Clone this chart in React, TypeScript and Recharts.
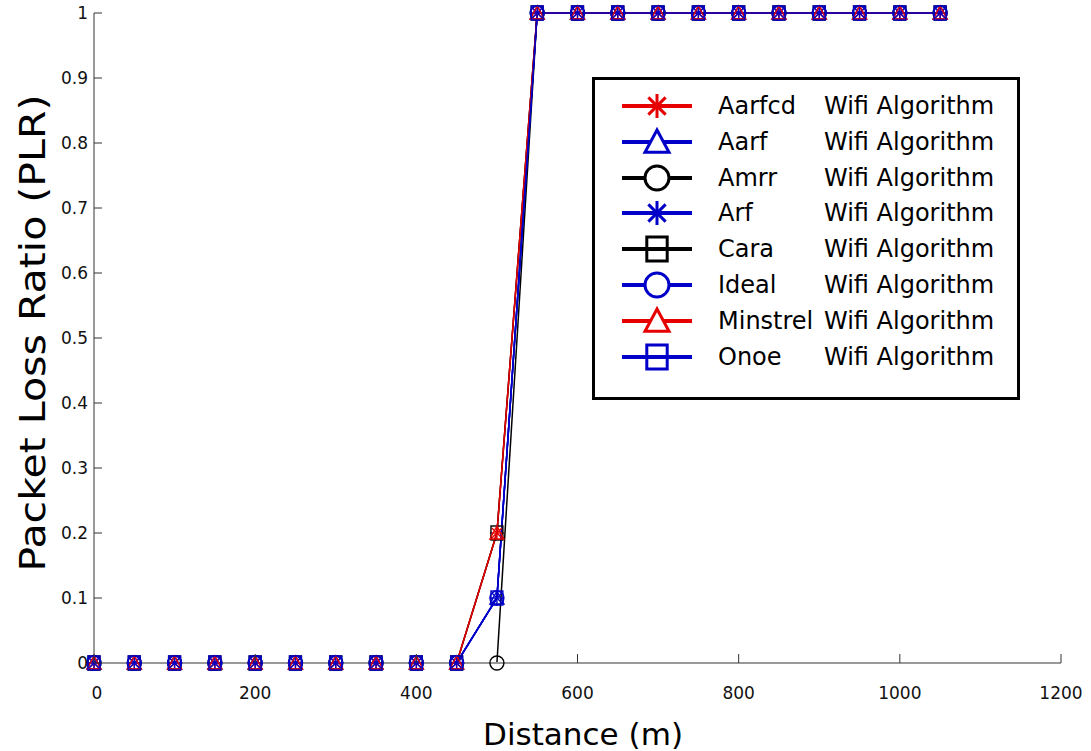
import { LineChart, Line, XAxis, YAxis, Legend } from "recharts";

// distance along the x axis (m)
const distances = [0, 50, 100, 150, 200, 250, 300, 350, 400, 450, 500, 550, 600, 650, 700, 750, 800, 850, 900, 950, 1000, 1050];

// packet loss ratio per algorithm
const aarfcd = [0, 0, 0, 0, 0, 0, 0, 0, 0, 0, 0.2, 1, 1, 1, 1, 1, 1, 1, 1, 1, 1, 1];
const aarf = [0, 0, 0, 0, 0, 0, 0, 0, 0, 0, 0.1, 1, 1, 1, 1, 1, 1, 1, 1, 1, 1, 1];
const amrr = [0, 0, 0, 0, 0, 0, 0, 0, 0, 0, 0, 1, 1, 1, 1, 1, 1, 1, 1, 1, 1, 1];
const arf = [0, 0, 0, 0, 0, 0, 0, 0, 0, 0, 0.1, 1, 1, 1, 1, 1, 1, 1, 1, 1, 1, 1];
const cara = [0, 0, 0, 0, 0, 0, 0, 0, 0, 0, 0.2, 1, 1, 1, 1, 1, 1, 1, 1, 1, 1, 1];
const ideal = [0, 0, 0, 0, 0, 0, 0, 0, 0, 0, 0.1, 1, 1, 1, 1, 1, 1, 1, 1, 1, 1, 1];
const minstrel = [0, 0, 0, 0, 0, 0, 0, 0, 0, 0, 0.2, 1, 1, 1, 1, 1, 1, 1, 1, 1, 1, 1];
const onoe = [0, 0, 0, 0, 0, 0, 0, 0, 0, 0, 0.1, 1, 1, 1, 1, 1, 1, 1, 1, 1, 1, 1];

const xTicks = [0, 200, 400, 600, 800, 1000, 1200];
const yTicks = [0, 0.1, 0.2, 0.3, 0.4, 0.5, 0.6, 0.7, 0.8, 0.9, 1];

const RED = "#e60000";
const BLUE = "#0000c8";
const BLACK = "#000000";

type Shape = "star" | "triangle" | "circle" | "square";

const series: { key: string; name: string; color: string; shape: Shape; values: number[] }[] = [
  { key: "aarfcd", name: "Aarfcd", color: RED, shape: "star", values: aarfcd },
  { key: "aarf", name: "Aarf", color: BLUE, shape: "triangle", values: aarf },
  { key: "amrr", name: "Amrr", color: BLACK, shape: "circle", values: amrr },
  { key: "arf", name: "Arf", color: BLUE, shape: "star", values: arf },
  { key: "cara", name: "Cara", color: BLACK, shape: "square", values: cara },
  { key: "ideal", name: "Ideal", color: BLUE, shape: "circle", values: ideal },
  { key: "minstrel", name: "Minstrel", color: RED, shape: "triangle", values: minstrel },
  { key: "onoe", name: "Onoe", color: BLUE, shape: "square", values: onoe },
];

const data = distances.map((d, i) => {
  const row: Record<string, number> = { d };
  series.forEach((s) => (row[s.key] = s.values[i]));
  return row;
});

const FONT = "'DejaVu Sans', Verdana, sans-serif";

const Marker = ({ shape, cx, cy, r, color, sw, fill = "none" }: any) => {
  if (cx == null || cy == null) return null;
  if (shape === "star") {
    const d = r * 0.72;
    return (
      <g stroke={color} strokeWidth={sw}>
        <line x1={cx - r} y1={cy} x2={cx + r} y2={cy} />
        <line x1={cx} y1={cy - r} x2={cx} y2={cy + r} />
        <line x1={cx - d} y1={cy - d} x2={cx + d} y2={cy + d} />
        <line x1={cx - d} y1={cy + d} x2={cx + d} y2={cy - d} />
      </g>
    );
  }
  if (shape === "triangle") {
    return (
      <polygon
        points={`${cx},${cy - r} ${cx - r},${cy + r * 0.85} ${cx + r},${cy + r * 0.85}`}
        stroke={color}
        strokeWidth={sw}
        fill={fill}
      />
    );
  }
  if (shape === "circle") {
    return <circle cx={cx} cy={cy} r={r} stroke={color} strokeWidth={sw} fill={fill} />;
  }
  return (
    <rect x={cx - r * 0.85} y={cy - r} width={r * 1.7} height={r * 2} stroke={color} strokeWidth={sw} fill={fill} />
  );
};

const BottomTick = (p: any) => (
  <g>
    <line x1={p.x} x2={p.x} y1={p.y} y2={p.y - 9} stroke="#333" />
    <text x={p.x + (p.payload.value === 0 ? 3 : 0)} y={p.y + 36} textAnchor="middle" fontSize={17} fontFamily={FONT} fill="#111">
      {p.payload.value}
    </text>
  </g>
);

const TopTick = (p: any) => <line x1={p.x} x2={p.x} y1={p.y} y2={p.y + 9} stroke="#333" />;

const LeftTick = (p: any) => (
  <g>
    <line x1={p.x} x2={p.x + 8} y1={p.y} y2={p.y} stroke="#333" />
    <text x={p.x - 6} y={p.y + 6} textAnchor="end" fontSize={17} fontFamily={FONT} fill="#111">
      {p.payload.value}
    </text>
  </g>
);

const RightTick = (p: any) => <line x1={p.x} x2={p.x - 6} y1={p.y} y2={p.y} stroke="#333" />;

const LegendBox = () => (
  <div
    style={{
      width: 428,
      height: 323,
      boxSizing: "border-box",
      border: "3px solid #000",
      background: "#fff",
      paddingTop: 8,
      fontFamily: FONT,
      fontSize: 24,
      color: "#000",
    }}
  >
    {series.map((s) => (
      <div key={s.key} style={{ display: "flex", alignItems: "center", height: 35.85 }}>
        <svg width={123} height={36} style={{ flex: "none" }}>
          <line x1={27} x2={97} y1={18} y2={18} stroke={s.color} strokeWidth={4} />
          <Marker shape={s.shape} cx={62} cy={18} r={12} color={s.color} sw={3} fill={s.shape === "star" || s.shape === "square" ? "none" : "#fff"} />
        </svg>
        <span style={{ width: 106, flex: "none", whiteSpace: "nowrap" }}>{s.name}</span>
        <span style={{ whiteSpace: "nowrap" }}>Wifi Algorithm</span>
      </div>
    ))}
  </div>
);

export default function App() {
  return (
    <div style={{ position: "absolute", left: 0, top: 0, width: 1091, height: 751, background: "#fff" }}>
      <LineChart width={1091} height={751} data={data} margin={{ top: 13, right: 30, bottom: 0, left: 0 }}>
        <XAxis
          dataKey="d"
          type="number"
          domain={[0, 1200]}
          ticks={xTicks}
          interval={0}
          height={88}
          tickSize={0}
          tickMargin={0}
          tickLine={false}
          axisLine={{ stroke: "#999", strokeWidth: 2 }}
          tick={BottomTick}
          label={{
            content: () => (
              <text x={583} y={745} textAnchor="middle" fontSize={31} fontFamily={FONT} textLength={200} lengthAdjust="spacingAndGlyphs" fill="#000">
                Distance (m)
              </text>
            ),
          }}
        />
        <XAxis
          xAxisId="top"
          orientation="top"
          type="number"
          domain={[0, 1200]}
          ticks={xTicks}
          interval={0}
          height={0}
          tickSize={0}
          tickMargin={0}
          tickLine={false}
          axisLine={{ stroke: "#000", strokeWidth: 1.5 }}
          tick={TopTick}
        />
        <YAxis
          type="number"
          domain={[0, 1]}
          ticks={yTicks}
          interval={0}
          width={94}
          tickSize={0}
          tickMargin={0}
          tickLine={false}
          axisLine={{ stroke: "#999", strokeWidth: 2 }}
          tick={LeftTick}
          label={{
            content: () => (
              <text
                transform="translate(45, 333) rotate(-90)"
                textAnchor="middle"
                fontSize={36}
                fontFamily={FONT}
                textLength={477}
                lengthAdjust="spacingAndGlyphs"
                fill="#000"
              >
                Packet Loss Ratio (PLR)
              </text>
            ),
          }}
        />
        <YAxis
          yAxisId="right"
          orientation="right"
          type="number"
          domain={[0, 1]}
          ticks={yTicks}
          interval={0}
          width={0}
          tickSize={0}
          tickMargin={0}
          tickLine={false}
          axisLine={{ stroke: "#aaa", strokeWidth: 1.5 }}
          tick={RightTick}
        />
        <Legend
          layout="vertical"
          align="center"
          verticalAlign="middle"
          content={LegendBox}
          wrapperStyle={{ left: 592, top: 77, width: 428, height: 323 }}
        />
        {series.map((s) => (
          <Line
            key={s.key}
            dataKey={s.key}
            name={s.name}
            type="linear"
            stroke={s.color}
            strokeWidth={1.5}
            isAnimationActive={false}
            dot={(p: any) => (
              <Marker key={`${s.key}-${p.index}`} shape={s.shape} cx={p.cx} cy={p.cy} r={7} color={s.color} sw={1.4} />
            )}
            activeDot={false}
          />
        ))}
      </LineChart>
    </div>
  );
}
